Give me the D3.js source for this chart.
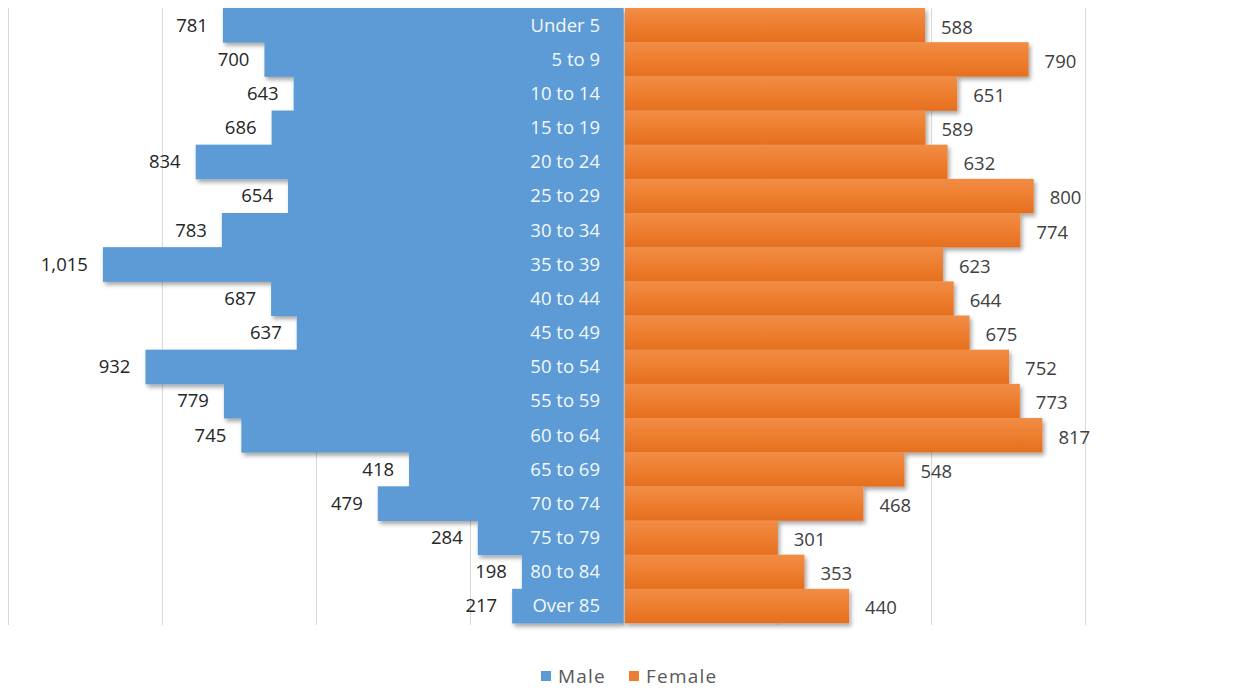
<!DOCTYPE html>
<html>
<head>
<meta charset="utf-8">
<script src="https://cdn.jsdelivr.net/npm/d3@7"></script>
<style>
  html, body { margin: 0; padding: 0; background: #fff; }
  svg { display: block; }
</style>
</head>
<body>
<svg id="chart" width="1236" height="688"></svg>
<script>
// Age groups, top to bottom
const categories = ["Under 5", "5 to 9", "10 to 14", "15 to 19", "20 to 24", "25 to 29",
  "30 to 34", "35 to 39", "40 to 44", "45 to 49", "50 to 54", "55 to 59",
  "60 to 64", "65 to 69", "70 to 74", "75 to 79", "80 to 84", "Over 85"];
const male = [781, 700, 643, 686, 834, 654, 783, 1015, 687, 637, 932, 779, 745, 418, 479, 284, 198, 217];
const female = [588, 790, 651, 589, 632, 800, 774, 623, 644, 675, 752, 773, 817, 548, 468, 301, 353, 440];
const gridValues = [-1200, -900, -600, -300, 0, 300, 600, 900];
const seriesNames = ["Male", "Female"];

const svg = d3.select("#chart");
const fontFamily = "'Open Sans', 'Noto Sans', sans-serif";

const x = d3.scaleLinear().domain([-1200, 900]).range([8, 1085]);
const y = d3.scaleBand().domain(categories).range([8, 623]).padding(0);

const defs = svg.append("defs");
const shadow = defs.append("filter").attr("id", "shadow")
  .attr("x", "-10%").attr("y", "-10%").attr("width", "120%").attr("height", "130%");
shadow.append("feDropShadow")
  .attr("dx", 2).attr("dy", 3).attr("stdDeviation", 2)
  .attr("flood-color", "#000").attr("flood-opacity", 0.35);

const orangeGrad = defs.append("linearGradient").attr("id", "orangeGrad")
  .attr("x1", 0).attr("y1", 0).attr("x2", 0).attr("y2", 1);
orangeGrad.append("stop").attr("offset", "0%").attr("stop-color", "#F18D45");
orangeGrad.append("stop").attr("offset", "50%").attr("stop-color", "#EE7E30");
orangeGrad.append("stop").attr("offset", "100%").attr("stop-color", "#E56F1F");

// Vertical gridlines
svg.append("g").selectAll("line").data(gridValues).join("line")
  .attr("x1", d => Math.round(x(d)) + 0.5).attr("x2", d => Math.round(x(d)) + 0.5)
  .attr("y1", 8).attr("y2", 625)
  .attr("stroke", "#d9d9d9").attr("stroke-width", 1);

const x0 = x(0);

const maleData = categories.map((c, i) => ({ c, v: male[i] }));
const femaleData = categories.map((c, i) => ({ c, v: female[i] }));

// Male bars (to the left of centre)
svg.append("g").attr("filter", "url(#shadow)")
  .selectAll("rect").data(maleData).join("rect")
  .attr("x", d => x(-d.v)).attr("width", d => x0 - x(-d.v))
  .attr("y", d => y(d.c)).attr("height", y.bandwidth() + 0.5)
  .attr("fill", "#5B9BD5");

// Female bars (to the right of centre)
svg.append("g").attr("filter", "url(#shadow)")
  .selectAll("rect").data(femaleData).join("rect")
  .attr("x", x0 + 1.5).attr("width", d => x(d.v) - x0 - 1.5)
  .attr("y", d => y(d.c)).attr("height", y.bandwidth() + 0.3)
  .attr("fill", "url(#orangeGrad)");

// Category labels inside the male bars
svg.append("g").selectAll("text").data(categories).join("text")
  .attr("x", 600).attr("y", d => y(d) + y.bandwidth() / 2)
  .attr("dy", "0.35em").attr("text-anchor", "end")
  .attr("font-family", fontFamily).attr("font-size", 18.5)
  .attr("fill", "#f4f8fc").text(d => d);

const fmt = d3.format(",");

// Value labels
svg.append("g").selectAll("text").data(maleData).join("text")
  .attr("x", d => x(-d.v) - 15).attr("y", d => y(d.c) + y.bandwidth() / 2)
  .attr("dy", "0.35em").attr("text-anchor", "end")
  .attr("font-family", fontFamily).attr("font-size", 18.5)
  .attr("fill", "#262626").text(d => fmt(d.v));

svg.append("g").selectAll("text").data(femaleData).join("text")
  .attr("x", d => x(d.v) + 16).attr("y", d => y(d.c) + y.bandwidth() / 2 + 2)
  .attr("dy", "0.35em").attr("text-anchor", "start")
  .attr("font-family", fontFamily).attr("font-size", 18.5)
  .attr("fill", "#404040").text(d => fmt(d.v));

// Legend
const legendColors = ["#5B9BD5", "#ED7D31"];
const legendX = [541, 629];
const legend = svg.append("g").selectAll("g").data(seriesNames).join("g")
  .attr("transform", (d, i) => `translate(${legendX[i]},676)`);
legend.append("rect").attr("x", 0).attr("y", -5).attr("width", 10).attr("height", 10)
  .attr("fill", (d, i) => legendColors[i]);
legend.append("text").attr("x", 17).attr("y", 0).attr("dy", "0.35em")
  .attr("font-family", fontFamily).attr("font-size", 19).attr("letter-spacing", 1.2)
  .attr("fill", "#595959").text(d => d);
</script>
</body>
</html>
